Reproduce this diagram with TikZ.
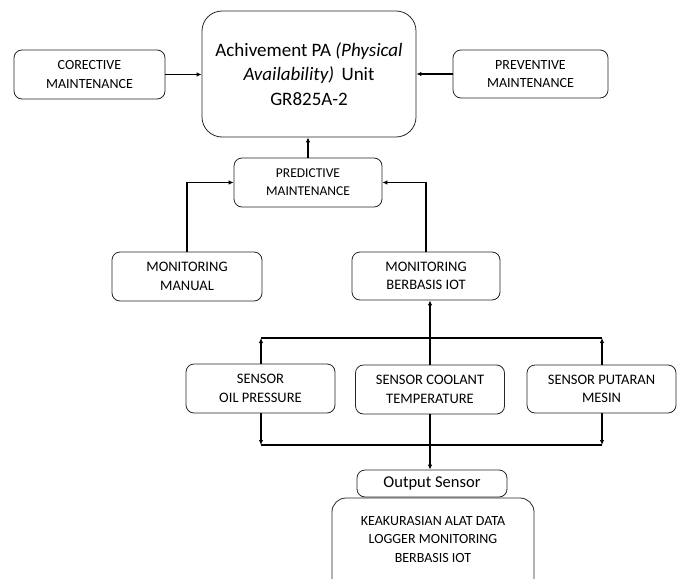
\documentclass[tikz,border=0pt]{standalone}
\usepackage{fontspec}
\setmainfont{Carlito}
\usetikzlibrary{arrows.meta}
\begin{document}
\begin{tikzpicture}[x=1pt,y=-1pt,
  box/.style={draw=black!85,line width=0.8pt,rounded corners=8pt,align=center,inner sep=0pt,
    font=\fontsize{14.5}{18.5}\selectfont},
  conn/.style={line width=1.3pt},
  arr/.style={conn,-{Latex[length=5pt,width=4.5pt]}}]
\useasboundingbox (0,0) rectangle (684,578);
\node[box,rounded corners=20pt,minimum width=214pt,minimum height=126pt,
  font=\fontsize{19}{24.5}\selectfont] (main) at (309,74)
  {Achivement PA \textit{(Physical}\\\textit{Availability)}\, Unit\\GR825A-2};
\node[box,minimum width=151pt,minimum height=49pt,font=\fontsize{14}{18.5}\selectfont] (corr) at (89.5,74.5) {CORECTIVE\\MAINTENANCE};
\node[box,minimum width=155pt,minimum height=48pt,font=\fontsize{14}{18.5}\selectfont] (prev) at (530.5,74) {PREVENTIVE\\MAINTENANCE};
\node[box,minimum width=148pt,minimum height=49pt,font=\fontsize{13.5}{18}\selectfont] (pred) at (308,182.5) {PREDICTIVE\\MAINTENANCE};
\node[box,minimum width=150pt,minimum height=49pt] (man) at (187,276.5) {MONITORING\\MANUAL};
\node[box,minimum width=148pt,minimum height=48pt] (iot) at (426,276) {MONITORING\\BERBASIS IOT};
\node[box,minimum width=149pt,minimum height=49pt] (oil) at (260.5,388.5) {SENSOR\\OIL PRESSURE};
\node[box,minimum width=149pt,minimum height=49pt] (cool) at (430,389.5) {SENSOR COOLANT\\TEMPERATURE};
\node[box,minimum width=149pt,minimum height=48pt] (put) at (601.5,389) {SENSOR PUTARAN\\MESIN};
\node[box,minimum width=150pt,minimum height=27pt,font=\fontsize{16.5}{19}\selectfont] (out) at (432,483.5) {Output Sensor};
\node[box,rounded corners=14pt,minimum width=202pt,minimum height=94pt] (keak) at (433,545) {};
\node[font=\fontsize{14}{18.5}\selectfont,align=center] (keakt) at (433,539) {KEAKURASIAN ALAT DATA\\LOGGER MONITORING\\BERBASIS IOT};
% top connectors
\draw[arr] (corr.east) -- (main.west |- corr.east);
\draw[arr] (prev.west) -- (main.east |- prev.west);
\draw[arr] (pred.north) -- (pred.north |- main.south);
\draw[arr] (man.north) |- (pred.west);
\draw[arr] (iot.north) |- (pred.east);
% sensor buses
\coordinate (tl) at (261,338);
\coordinate (tr) at (602,338);
\coordinate (bl) at (261,445);
\coordinate (br) at (602,445);
\draw[conn] (tl) -- (tr);
\draw[conn] (bl) -- (br);
\draw[arr] (oil.north -| tl) -- (tl);
\draw[arr] (put.north -| tr) -- (tr);
\draw[arr] (oil.south -| bl) -- (bl);
\draw[arr] (put.south -| br) -- (br);
\draw[arr] (cool.north) -- (cool.north |- iot.south);
\draw[arr] (cool.south) -- (cool.south |- out.north);
\end{tikzpicture}
\end{document}
